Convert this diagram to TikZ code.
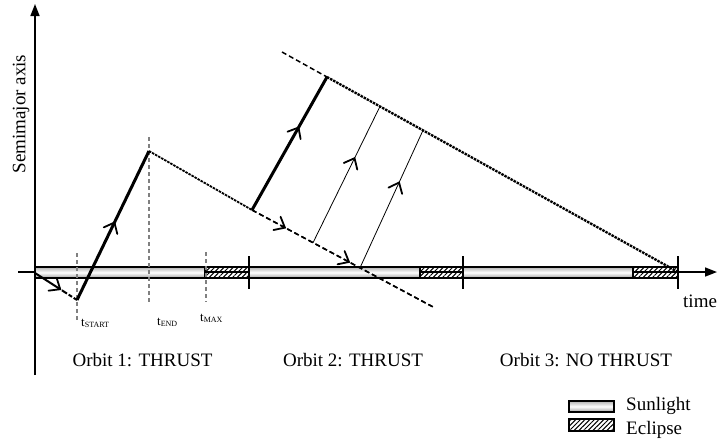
\documentclass[tikz,border=0pt]{standalone}
\usepackage{fontspec}
\setmainfont{Liberation Serif}
\usetikzlibrary{arrows.meta,decorations.markings,patterns.meta}
\begin{document}
\begin{tikzpicture}[x=1pt,y=-1pt,
  axisline/.style={line width=1.6pt,-{Triangle[length=12pt,width=9pt]}},
  tickline/.style={line width=1.6pt},
  sun/.style={draw=black,line width=1.1pt,top color=gray!60,bottom color=gray!75,middle color=white},
  ecl/.style={draw=black,line width=1.1pt,pattern={Lines[angle=45,distance=3.3pt,line width=1pt]}},
  marker/.style={draw=gray,line width=1.4pt,dash pattern=on 4pt off 3pt},
  thrust/.style={line width=3pt},
  thinthrust/.style={line width=0.8pt},
  coast/.style={line width=1.8pt,dash pattern=on 2.5pt off 1pt},
  coastdash/.style={line width=1.5pt,dash pattern=on 5pt off 3pt},
  midarrow/.style={postaction={decorate},decoration={markings,mark=at position #1 with {\draw[solid,line width=1.8pt,line cap=round,line join=miter] (-9pt,-7.5pt) -- (0pt,0pt) -- (-9pt,7.5pt);}}},
  lbl/.style={font=\fontsize{19}{19}\selectfont,inner sep=0pt},
  tlbl/.style={inner sep=0pt,anchor=base west}
]
\useasboundingbox (0,0) rectangle (717,440);
\fill[white] (0,0) rectangle (717,440);

% axes
\coordinate (yb) at (35,375);
\coordinate (yt) at (35,4);
\coordinate (xl) at (18,272);
\coordinate (xr) at (717,272);
\draw[axisline] (yb) -- (yt);
\draw[axisline] (xl) -- (xr);

% bar
\path[sun] (35,267) rectangle (205,278);
\path[ecl] (205,267) rectangle (249,278);
\path[sun] (249,267) rectangle (420,278);
\path[ecl] (420,267) rectangle (463,278);
\path[sun] (463,267) rectangle (633,278);
\path[ecl] (633,267) rectangle (678,278);

% ticks
\draw[tickline] (35,256) -- (35,289);
\draw[tickline] (249,256) -- (249,289);
\draw[tickline] (463,256) -- (463,289);
\draw[tickline] (678,256) -- (678,289);

% time markers
\coordinate (ms1) at (77,253);  \coordinate (ms2) at (77,320);
\coordinate (me1) at (149,137); \coordinate (me2) at (149,303);
\coordinate (mm1) at (206,252); \coordinate (mm2) at (206,302);
\draw[marker] (ms1) -- (ms2);
\draw[marker] (me1) -- (me2);
\draw[marker] (mm1) -- (mm2);

% trajectory points
\coordinate (O) at (35,273);
\coordinate (A) at (77,300);
\coordinate (B) at (149,151);
\coordinate (C) at (252,210);
\coordinate (P1) at (313,242.7);
\coordinate (P2) at (360,267.8);
\coordinate (F) at (435,308);
\coordinate (G) at (282,52);
\coordinate (D) at (327,77);
\coordinate (Q1) at (380,106.4);
\coordinate (Q2) at (423,130.3);
\coordinate (H) at (678,272);

\draw[line width=2pt,dash pattern=on 30pt off 2pt on 6pt off 2pt on 4pt off 2pt,midarrow=0.6] (O) -- (A);
\draw[thrust,midarrow=0.52] (A) -- (B);
\draw[coast] (B) -- (C);
\draw[thrust,midarrow=0.62] (C) -- (D);
\draw[coastdash,midarrow=0.18] (C) -- (F);
\draw[coastdash,midarrow=0.53] (C) -- (F);
\draw[coastdash] (G) -- (D);
\draw[coast,line width=2.3pt] (D) -- (H);
\draw[thinthrust,midarrow=0.62] (P1) -- (Q1);
\draw[thinthrust,midarrow=0.62] (P2) -- (Q2);

% labels
\node[lbl,rotate=90] (ylab) at (21,114) {Semimajor axis};
\node[lbl,anchor=base west] (tlab) at (683,307) {time};
\node[tlbl] (ts) at (81,326) {{\fontsize{13}{13}\selectfont t}\raisebox{-1pt}{\fontsize{8}{8}\selectfont START}};
\node[tlbl] (te) at (157,325) {{\fontsize{13}{13}\selectfont t}\raisebox{-1pt}{\fontsize{8}{8}\selectfont END}};
\node[tlbl] (tm) at (200,321) {{\fontsize{13}{13}\selectfont t}\raisebox{-1pt}{\fontsize{8}{8}\selectfont MAX}};
\node[lbl,anchor=base] (o1) at (142.5,366) {Orbit 1: THRUST};
\node[lbl,anchor=base] (o2) at (353,366) {Orbit 2: THRUST};
\node[lbl,anchor=base] (o3) at (586,366) {Orbit 3: NO THRUST};

% legend
\path[sun] (569,401) rectangle (614,412);
\path[ecl] (569,419) rectangle (614,431);
\node[lbl,anchor=base west] (ls) at (626,410) {Sunlight};
\node[lbl,anchor=base west] (le) at (626,434) {Eclipse};
\end{tikzpicture}
\end{document}
